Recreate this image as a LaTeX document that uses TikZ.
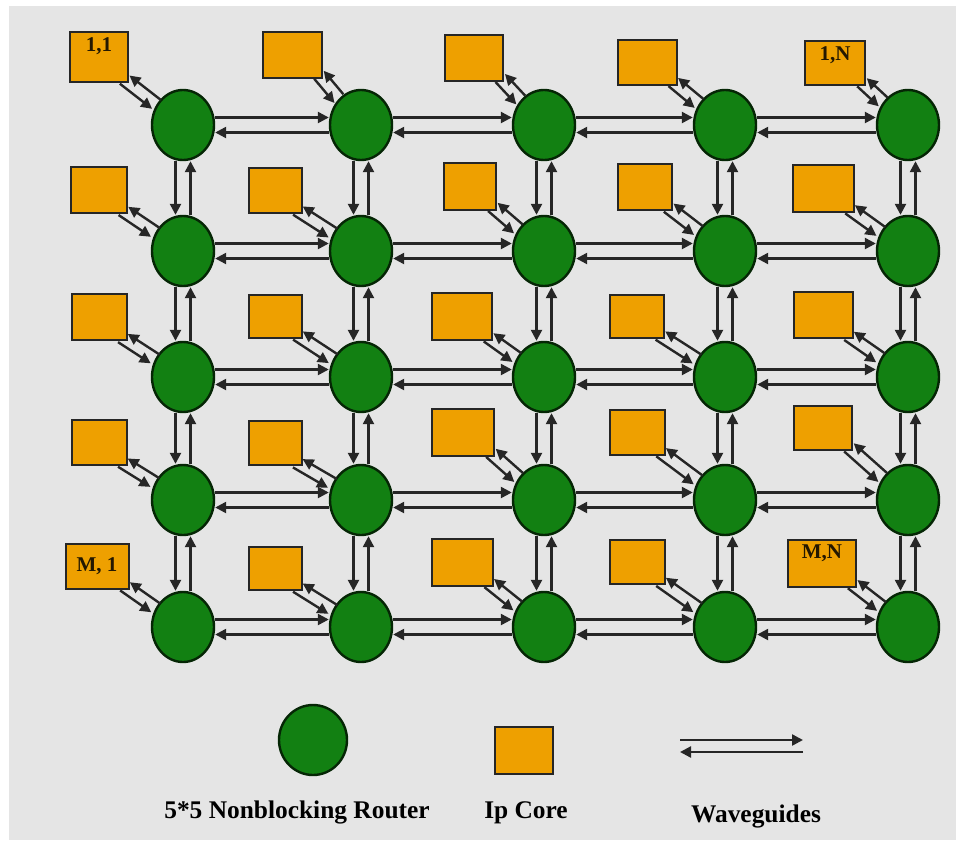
\documentclass[tikz,border=0pt]{standalone}
\usepackage{fontspec}
\setmainfont{Liberation Serif}
\usetikzlibrary{shapes.geometric,arrows.meta}

\definecolor{routergreen}{RGB}{18,128,18}
\definecolor{coreorange}{RGB}{238,160,0}
\definecolor{panelgray}{RGB}{229,229,229}
\definecolor{wgline}{RGB}{38,38,38}

\begin{document}
\begin{tikzpicture}[x=0.5pt,y=-0.5pt,
  router/.style={ellipse,draw=routergreen!30!black,line width=1.2pt,fill=routergreen,
    minimum width=31pt,minimum height=35pt,inner sep=0pt},
  core/.style 2 args={rectangle,draw=black!85,line width=1pt,fill=coreorange,
    minimum width=#1,minimum height=#2,inner sep=0pt},
  corelbl/.style={anchor=north,inner sep=3pt,text=coreorange!15!black,
    font=\fontsize{10.5}{12}\selectfont\bfseries},
  wg/.style={draw=wgline,line width=1.2pt,-{Triangle[length=5.5pt,width=5.5pt]}},
  legend/.style={anchor=base,font=\fontsize{12.7}{15}\selectfont\bfseries}]

% page and grey panel
\useasboundingbox[fill=white] (0,0) rectangle (958,841);
\fill[panelgray] (9,6) rectangle (956,840);

% 5x5 grid of routers
\foreach \i/\y in {1/125,2/251,3/377,4/500,5/627}
  \foreach \j/\x in {1/183,2/361,3/544,4/725,5/908}
    \node[router] (r\i\j) at (\x,\y) {};

% ip cores, row 1
\node[core={29pt}{25pt},label={[corelbl]north:1,1}] (c11) at (99,57) {};
\node[core={29.5pt}{23pt}] (c12) at (292,55) {};
\node[core={29pt}{23pt}] (c13) at (474,58) {};
\node[core={29.5pt}{22.5pt}] (c14) at (647,62) {};
\node[core={30pt}{22pt},label={[corelbl]north:1,N}] (c15) at (835,63) {};
% row 2
\node[core={28pt}{23pt}] (c21) at (99,190) {};
\node[core={26.5pt}{22.5pt}] (c22) at (275,190) {};
\node[core={26pt}{23.5pt}] (c23) at (470,186) {};
\node[core={27pt}{23pt}] (c24) at (645,187) {};
\node[core={30.5pt}{23.5pt}] (c25) at (823,188) {};
% row 3
\node[core={27.5pt}{23pt}] (c31) at (99,317) {};
\node[core={26.5pt}{21.5pt}] (c32) at (275,316) {};
\node[core={30pt}{23.5pt}] (c33) at (462,316) {};
\node[core={27pt}{21.5pt}] (c34) at (637,316) {};
\node[core={29.5pt}{23pt}] (c35) at (823,315) {};
% row 4
\node[core={27.5pt}{22.5pt}] (c41) at (99,442) {};
\node[core={26.5pt}{22pt}] (c42) at (275,443) {};
\node[core={31pt}{23.5pt}] (c43) at (463,432) {};
\node[core={27.5pt}{22.5pt}] (c44) at (637,432) {};
\node[core={29pt}{22pt}] (c45) at (823,428) {};
% row 5
\node[core={31.5pt}{22.5pt},font=\fontsize{10.5}{12}\selectfont\bfseries,
  text=coreorange!15!black] (c51) at (97,566) {M, 1};
\node[core={26.5pt}{21.5pt}] (c52) at (275,568) {};
\node[core={30.5pt}{23.5pt}] (c53) at (462,562) {};
\node[core={27.5pt}{22pt}] (c54) at (637,562) {};
\node[core={34pt}{23.5pt},label={[corelbl]north:M,N}] (c55) at (822,563) {};

% waveguides along the rows
\foreach \i in {1,...,5}
  \foreach \j [count=\k from 2] in {1,...,4} {
    \draw[wg,transform canvas={yshift=3.75pt}] (r\i\j) -- (r\i\k);
    \draw[wg,transform canvas={yshift=-3.75pt}] (r\i\k) -- (r\i\j);
  }

% waveguides along the columns
\foreach \j in {1,...,5}
  \foreach \i [count=\k from 2] in {1,...,4} {
    \draw[wg,transform canvas={xshift=-3.75pt}] (r\i\j) -- (r\k\j);
    \draw[wg,transform canvas={xshift=3.75pt}] (r\k\j) -- (r\i\j);
  }

% core <-> router links
\foreach \i in {1,...,5}
  \foreach \j in {1,...,5} {
    \draw[wg,shorten <=-3pt,transform canvas={shift={(-2.2pt,-2.2pt)}}] (c\i\j.south east) -- (r\i\j);
    \draw[wg,shorten >=-2.5pt,transform canvas={shift={(2.2pt,2.2pt)}}] (r\i\j) -- (c\i\j.south east);
  }

% legend
\node[router,minimum width=34pt,minimum height=35pt] (lgrouter) at (313,740) {};
\node[core={29pt}{23.5pt}] (lgcore) at (524,750) {};
\coordinate (lga) at (680,740);
\coordinate (lgb) at (803,740);
\coordinate (lgc) at (803,752);
\coordinate (lgd) at (680,752);
\draw[wg] (lga) -- (lgb);
\draw[wg] (lgc) -- (lgd);
\node[legend] (lgrtext) at (297,818) {5*5 Nonblocking Router};
\node[legend] (lgctext) at (526,818) {Ip Core};
\node[legend] (lgwtext) at (756,822) {Waveguides};

\end{tikzpicture}
\end{document}
